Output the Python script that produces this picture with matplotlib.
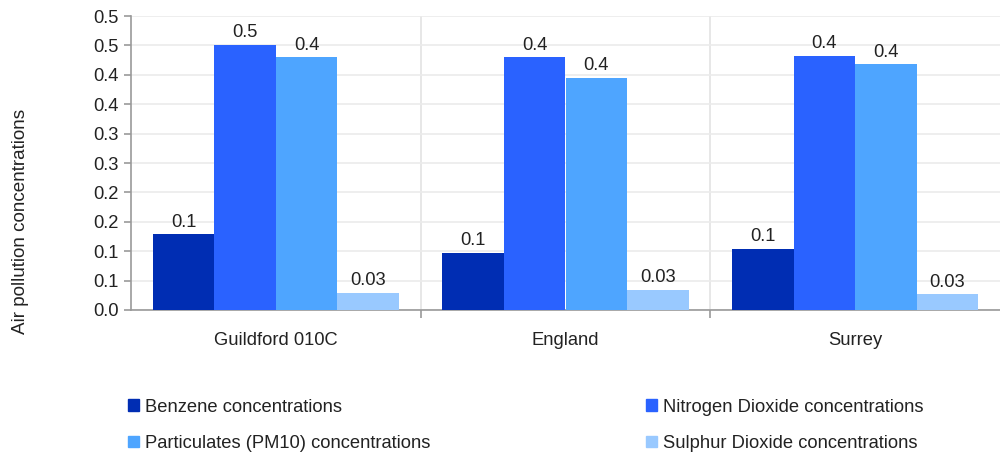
import matplotlib
matplotlib.use("Agg")
import matplotlib.pyplot as plt
from matplotlib.patches import Patch
from matplotlib.ticker import FixedLocator, FuncFormatter
import numpy as np
from decimal import Decimal, ROUND_HALF_UP

plt.rcParams['font.family'] = ['Liberation Sans', 'DejaVu Sans']

categories = ["Guildford 010C", "England", "Surrey"]
series_names = ["Benzene concentrations", "Nitrogen Dioxide concentrations",
                "Particulates (PM10) concentrations", "Sulphur Dioxide concentrations"]
benzene = [0.129, 0.097, 0.104]
no2 = [0.451, 0.430, 0.432]
pm10 = [0.430, 0.395, 0.418]
so2 = [0.029, 0.034, 0.027]
colors = ["#002DB3", "#2A62FF", "#4EA5FF", "#99C9FF"]
yticks = [0.0, 0.05, 0.1, 0.15, 0.2, 0.25, 0.3, 0.35, 0.4, 0.45, 0.5]

series = [benzene, no2, pm10, so2]
FS = 13.2

fig = plt.figure(figsize=(10, 4.55), dpi=100)
ax = fig.add_axes([0.131, 0.3187, 0.869, 0.6461])

x = np.arange(len(categories))
group_w = 0.85
bw = group_w / len(series)
for i, (vals, c) in enumerate(zip(series, colors)):
    pos = x - group_w / 2 + bw * (i + 0.5)
    ax.bar(pos, vals, width=bw, color=c, zorder=3)
    for p, v in zip(pos, vals):
        lbl = f"{v:.2f}" if v < 0.05 else str(Decimal(str(v)).quantize(Decimal("0.1"), rounding=ROUND_HALF_UP))
        ax.text(p, v + 0.006, lbl, ha="center", va="bottom", fontsize=FS, color="#222222")

ax.set_xlim(-0.5, len(categories) - 0.5)
ax.set_ylim(0, 0.5)
ax.yaxis.set_major_locator(FixedLocator(yticks))
ax.yaxis.set_major_formatter(FuncFormatter(
    lambda v, p: str(Decimal(str(round(v, 4))).quantize(Decimal("0.1"), rounding=ROUND_HALF_UP))))
ax.set_xticks(x)
ax.set_xticklabels(categories, fontsize=FS, color="#222222")
ax.tick_params(axis="x", length=0, pad=16)
ax.tick_params(axis="y", labelsize=FS, labelcolor="#222222", length=5, color="#999999", width=1.2, pad=4)

ax.set_xticks(np.arange(len(categories) - 1) + 0.5, minor=True)
ax.tick_params(axis="x", which="minor", length=6, color="#999999", width=1.2)

ax.grid(axis="y", color="#EBEBEB", linewidth=1.2, zorder=0)
ax.grid(axis="x", which="minor", color="#E3E3E3", linewidth=1.2, zorder=0)
for s in ["top", "right"]:
    ax.spines[s].set_visible(False)
for s in ["left", "bottom"]:
    ax.spines[s].set_color("#999999")
    ax.spines[s].set_linewidth(1.2)

fig.text(0.012, 0.514, "Air pollution concentrations", rotation=90, ha="left", va="center",
         fontsize=13.6, color="#222222")

order = [0, 2, 1, 3]
handles = [Patch(color=colors[i]) for i in order]
labels = [series_names[i] for i in order]
fig.legend(handles, labels, ncol=2, loc="upper left", bbox_to_anchor=(0.111, 0.16),
           frameon=False, fontsize=FS, handlelength=0.6, handleheight=0.6,
           handletextpad=0.35, columnspacing=11.75, labelspacing=1.05, labelcolor="#222222")

fig.savefig("out.png", dpi=100)
